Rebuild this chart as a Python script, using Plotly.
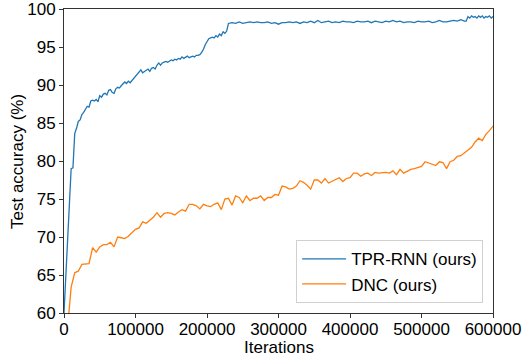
import plotly.graph_objects as go

# TPR-RNN (ours)
tpr_iters = [0, 2500, 5000, 7500, 10000, 12500, 15000, 17500, 20000, 22500, 25000, 27500, 30000,
             32500, 35000, 37500, 40000, 42500, 45000, 47500, 50000, 52500, 55000, 57500, 60000,
             62500, 65000, 67500, 70000, 72500, 75000, 77500, 80000, 82500, 85000, 87500, 90000,
             92500, 95000, 97500, 100000, 102500, 105000, 107500, 110000, 112500, 115000, 117500,
             120000, 122500, 125000, 127500, 130000, 132500, 135000, 137500, 140000, 142500, 145000,
             147500, 150000, 152500, 155000, 157500, 160000, 162500, 165000, 167500, 170000, 172500,
             175000, 177500, 180000, 182500, 185000, 187500, 190000, 192500, 195000, 197500, 200000,
             202500, 205000, 207500, 210000, 212500, 215000, 217500, 220000, 222500, 225000, 227500,
             230000, 235000, 240000, 245000, 250000, 255000, 260000, 265000, 270000, 275000, 280000,
             285000, 290000, 295000, 300000, 305000, 310000, 315000, 320000, 325000, 330000, 335000,
             340000, 345000, 350000, 355000, 360000, 365000, 370000, 375000, 380000, 385000, 390000,
             395000, 400000, 405000, 410000, 415000, 420000, 425000, 430000, 435000, 440000, 445000,
             450000, 455000, 460000, 465000, 470000, 475000, 480000, 485000, 490000, 495000, 500000,
             505000, 510000, 515000, 520000, 525000, 530000, 535000, 540000, 545000, 550000, 555000,
             560000, 562500, 565000, 567500, 570000, 572500, 575000, 577500, 580000, 582500, 585000,
             587500, 590000, 592500, 595000, 597500, 600000]
tpr_acc = [60.0, 65.0, 70.5, 75.5, 79.0, 79.1, 83.6, 84.3, 85.2, 85.4, 86.1, 86.4, 86.8,
           87.2, 87.1, 87.9, 88.0, 87.9, 88.1, 87.8, 88.6, 88.4, 88.8, 88.9, 88.7,
           89.3, 89.4, 89.0, 88.9, 89.5, 89.7, 89.6, 89.9, 90.2, 90.4, 90.2, 90.5,
           90.3, 90.6, 90.9, 91.1, 91.4, 91.7, 92.0, 91.6, 91.8, 92.0, 92.1,
           91.8, 92.2, 92.3, 92.1, 92.6, 92.9, 92.6, 92.9, 93.0, 93.1, 93.0,
           93.2, 93.3, 93.2, 93.4, 93.3, 93.5, 93.4, 93.7, 93.5, 93.6, 93.8,
           93.6, 93.7, 93.8, 93.7, 93.9, 93.9, 94.0, 94.3, 94.7, 95.3, 95.8,
           96.1, 96.2, 96.3, 96.2, 96.5, 96.3, 96.7, 96.5, 97.0, 96.8, 97.1,
           98.1, 98.2, 98.1, 98.3, 98.1, 98.2, 98.3, 98.2, 98.3, 98.2, 98.2,
           98.3, 98.1, 98.2, 98.0, 98.2, 98.2, 98.3, 98.2, 98.3, 98.1, 98.3,
           98.2, 98.4, 98.2, 98.5, 98.2, 98.3, 98.4, 98.2, 98.3, 98.2, 98.4,
           98.3, 98.3, 98.2, 98.4, 98.3, 98.3, 98.4, 98.2, 98.4, 98.3, 98.2,
           98.4, 98.3, 98.5, 98.3, 98.4, 98.2, 98.3, 98.3, 98.2, 98.4, 98.3,
           98.3, 98.4, 98.2, 98.3, 98.5, 98.3, 98.3, 98.4, 98.5, 98.4, 98.6,
           98.4, 98.4, 99.0, 98.8, 99.1, 98.9, 99.0, 98.8, 99.1, 98.9, 99.1,
           98.8, 99.0, 98.9, 99.1, 98.8, 99.0]

# DNC (ours)
dnc_iters = list(range(5000, 600001, 5000))
dnc_acc = [58.0, 63.4, 65.3, 65.5, 66.4, 66.5, 66.5, 68.6, 68.0, 68.7,
           69.0, 69.0, 69.3, 68.7, 70.0, 69.9, 69.8, 70.1, 70.5, 71.0,
           71.2, 72.0, 71.8, 72.2, 72.6, 73.2, 72.6, 73.1, 73.2, 73.1,
           72.9, 73.3, 73.6, 73.4, 74.3, 74.3, 74.1, 73.7, 74.3, 74.1,
           74.0, 74.3, 74.5, 73.6, 75.0, 75.1, 74.2, 75.4, 75.2, 74.5,
           75.4, 74.8, 75.1, 75.1, 75.4, 74.8, 75.2, 75.2, 75.6, 75.5,
           76.7, 76.6, 76.3, 76.4, 76.7, 77.4, 77.2, 76.8, 76.3, 77.5,
           77.5, 77.1, 77.7, 77.1, 77.3, 77.5, 77.8, 77.3, 77.7, 77.8,
           78.4, 78.4, 78.0, 78.3, 78.4, 78.1, 78.5, 78.4, 78.5, 78.5,
           78.4, 78.7, 78.2, 78.9, 78.4, 78.7, 78.9, 79.0, 79.1, 79.3,
           79.9, 79.7, 79.5, 79.4, 79.9, 79.8, 79.0, 79.9, 80.1, 80.6,
           80.7, 81.1, 81.5, 81.8, 82.5, 83.0, 82.7, 83.5, 84.0, 84.6]

x_ticks = [0, 100000, 200000, 300000, 400000, 500000, 600000]
y_ticks = [60, 65, 70, 75, 80, 85, 90, 95, 100]
x_title = "Iterations"
y_title = "Test accuracy (%)"

fig = go.Figure()
fig.add_trace(go.Scatter(x=tpr_iters, y=tpr_acc, mode="lines", name="TPR-RNN (ours)",
                         line=dict(color="#1f77b4", width=1.3)))
fig.add_trace(go.Scatter(x=dnc_iters, y=dnc_acc, mode="lines", name="DNC (ours)",
                         line=dict(color="#ff7f0e", width=1.3)))

font_family = "Liberation Sans, Arial, sans-serif"
fig.update_layout(
    width=522, height=356,
    margin=dict(l=64, r=29, t=9, b=43),
    paper_bgcolor="white", plot_bgcolor="white",
    font=dict(family=font_family, size=17, color="black"),
    legend=dict(x=0.977, y=0.032, xanchor="right", yanchor="bottom",
                bgcolor="white", bordercolor="#d0d0d0", borderwidth=1,
                font=dict(size=17), itemwidth=44, tracegroupgap=2),
    showlegend=True,
)
fig.update_xaxes(
    range=[0, 600000], tickvals=x_ticks, ticktext=[str(v) for v in x_ticks],
    showgrid=False, zeroline=False, showline=True, linecolor="#333", linewidth=1,
    mirror=True, ticks="outside", ticklen=4, tickcolor="#333",
    tickfont=dict(size=17), automargin=False, ticklabeloverflow="allow",
    ticklabelstandoff=-3,
)
fig.update_yaxes(
    range=[60, 100], tickvals=y_ticks,
    showgrid=False, zeroline=False, showline=True, linecolor="#333", linewidth=1,
    mirror=True, ticks="outside", ticklen=4, tickcolor="#333",
    tickfont=dict(size=17), automargin=False, ticklabeloverflow="allow",
)
fig.add_annotation(text=x_title, xref="paper", yref="paper", x=0.5, y=-0.113,
                   xanchor="center", yanchor="middle", showarrow=False,
                   font=dict(size=17))
fig.add_annotation(text=y_title, xref="paper", yref="paper", x=-0.1096, y=0.5,
                   xanchor="center", yanchor="middle", showarrow=False, textangle=-90,
                   font=dict(size=17))

fig.write_html("out.html", config={"displayModeBar": False},
               post_script="document.body.style.margin='0px';document.body.style.overflow='hidden';")
